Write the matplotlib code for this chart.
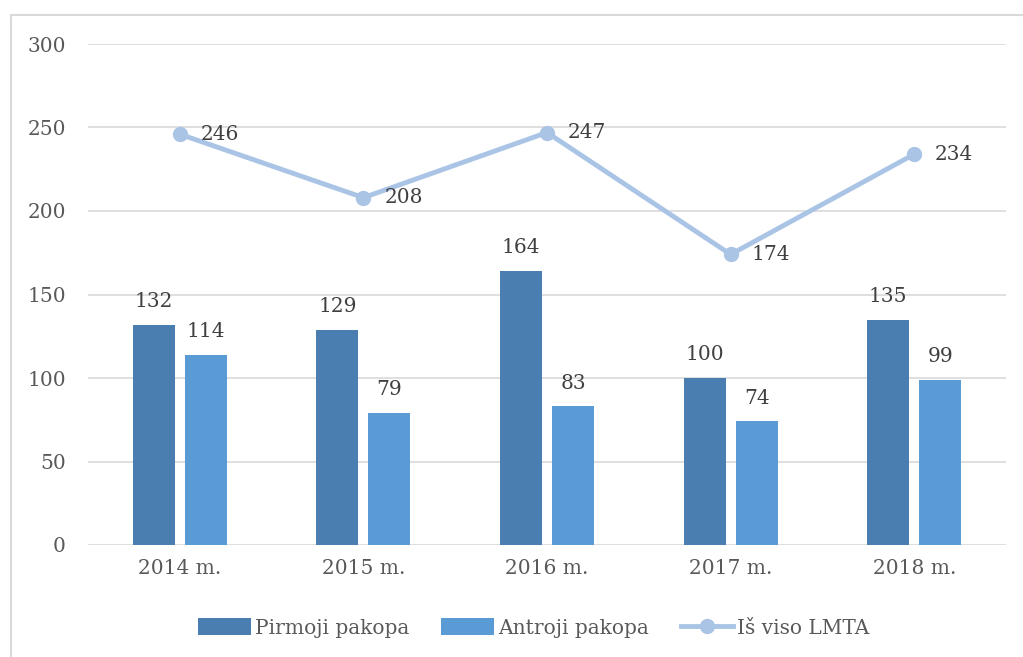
import matplotlib.pyplot as plt
import numpy as np
from matplotlib.patches import Rectangle

years = ["2014 m.", "2015 m.", "2016 m.", "2017 m.", "2018 m."]
pirmoji = [132, 129, 164, 100, 135]
antroji = [114, 79, 83, 74, 99]
is_viso = [246, 208, 247, 174, 234]

dark_blue = "#4A7EB0"
mid_blue = "#5B9BD5"
light_blue = "#AAC4E6"
txt_gray = "#595959"
lbl_gray = "#404040"

plt.rcParams['font.family'] = ['DejaVu Serif']
fs = 14.5

fig = plt.figure(figsize=(10.23, 6.57), dpi=100)
ax = fig.add_axes([88 / 1023, 1 - 545 / 657, 918 / 1023, 501 / 657])

# light frame around the chart area
fig.patches.append(Rectangle((10.5 / 1023, -0.1), 1.2, 1 - 14.5 / 657 + 0.1,
                             transform=fig.transFigure, fill=False,
                             edgecolor="#D9D9D9", linewidth=1.5))

x = np.arange(len(years))
w = 0.229
off = 0.1416

b1 = ax.bar(x - off, pirmoji, w, color=dark_blue, label="Pirmoji pakopa", zorder=2)
b2 = ax.bar(x + off, antroji, w, color=mid_blue, label="Antroji pakopa", zorder=2)
ln, = ax.plot(x, is_viso, color=light_blue, linewidth=3.5, marker="o",
              markersize=10, label="Iš viso LMTA", zorder=3)

for bars, vals in ((b1, pirmoji), (b2, antroji)):
    for r, v in zip(bars, vals):
        ax.annotate(str(v), (r.get_x() + r.get_width() / 2, v),
                    xytext=(0, 10), textcoords="offset points",
                    ha="center", va="bottom", fontsize=fs, color=lbl_gray)

for xi, v in zip(x, is_viso):
    ax.annotate(str(v), (xi, v), xytext=(15, 0), textcoords="offset points",
                ha="left", va="center", fontsize=fs, color=lbl_gray)

ax.set_xlim(-0.5, 4.5)
ax.set_ylim(0, 300)
ax.set_yticks(range(0, 301, 50))
ax.set_xticks(x)
ax.set_xticklabels(years)
ax.grid(axis="y", color="#D9D9D9", linewidth=1.2, zorder=0)
ax.set_axisbelow(True)
for s in ax.spines.values():
    s.set_visible(False)
ax.tick_params(length=0, labelsize=fs, colors=txt_gray)
ax.tick_params(axis="y", pad=16)
ax.tick_params(axis="x", pad=10)

fig.legend(handles=[b1, b2, ln], loc="center", bbox_to_anchor=(0.522, 1 - 628 / 657),
           ncol=3, frameon=False, fontsize=fs, labelcolor=txt_gray,
           handlelength=2.6, handleheight=0.9, handletextpad=0.2, columnspacing=1.6)

fig.savefig("out.png", dpi=100)
